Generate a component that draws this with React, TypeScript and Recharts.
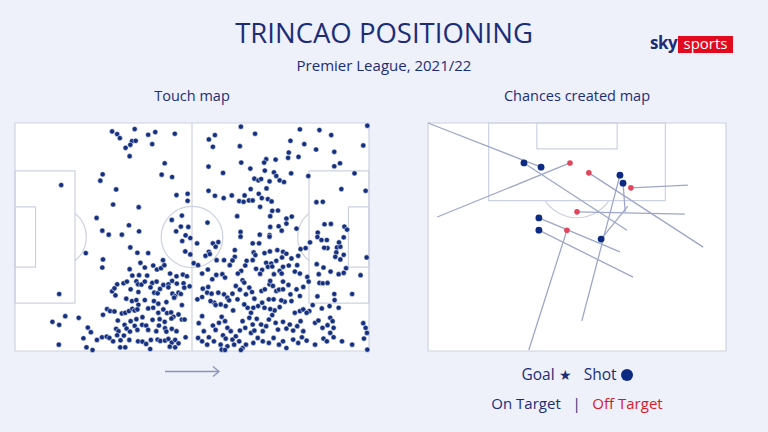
import { ScatterChart, Scatter, XAxis, YAxis, ReferenceArea, ReferenceLine, ReferenceDot } from 'recharts';

// touch locations, metres on a 105 x 68 pitch (attacking left to right, y from top)
const touches: [number, number][] = [
  [28.8, 2.5], [30.3, 3.3], [31.1, 4.5], [35.5, 1.8], [39.5, 3.5], [41.6, 2.7], [47.4, 3.2], [34.7, 5.4],
  [35.8, 5.3], [34.2, 6.5], [32.8, 7.4], [40.7, 6.3], [34.0, 9.9], [44.4, 12.0], [43.5, 15.4], [46.6, 16.1],
  [26.0, 15.3], [25.3, 17.2], [13.7, 18.5], [30.0, 19.8], [47.9, 21.5], [51.2, 21.1], [51.2, 23.2], [29.1, 24.3],
  [36.7, 25.1], [24.2, 28.3], [46.5, 28.9], [49.5, 27.6], [33.8, 30.5], [25.9, 32.1], [27.8, 33.3], [31.7, 33.3],
  [36.8, 32.3], [47.8, 32.3], [49.2, 30.9], [51.4, 31.0], [50.6, 33.5],
  [67.0, 1.1], [59.3, 3.6], [57.5, 4.9], [58.7, 7.1], [71.2, 3.2], [66.7, 6.9], [84.5, 1.9], [90.3, 2.1],
  [93.8, 3.6], [104.5, 0.8], [81.7, 5.3], [85.8, 6.3], [89.3, 7.9], [103.3, 6.7], [81.2, 8.8], [81.0, 10.4],
  [84.1, 10.1], [94.7, 8.6], [74.5, 10.8], [73.9, 11.8], [77.3, 10.9], [67.1, 11.8], [57.4, 13.0], [61.7, 14.9],
  [69.8, 13.6], [74.1, 14.2], [76.8, 14.7], [77.5, 15.8], [81.9, 15.0], [87.0, 15.8], [94.7, 12.9], [96.4, 12.0],
  [100.7, 15.0], [71.0, 16.6], [72.2, 17.1], [73.0, 16.7], [75.5, 17.4], [78.5, 17.1], [79.8, 17.6], [74.6, 19.5],
  [69.9, 19.7], [72.3, 21.1], [73.2, 22.4], [75.0, 22.7], [76.1, 23.4], [57.4, 20.2], [59.3, 21.7], [61.9, 22.4],
  [64.3, 21.6], [66.5, 23.3], [68.1, 21.6], [67.8, 23.5], [69.4, 23.1], [70.5, 23.1], [72.7, 25.0], [96.8, 19.7],
  [104.0, 20.2], [89.4, 23.6], [91.3, 23.5], [76.3, 26.2], [78.0, 26.1], [75.7, 27.8], [65.9, 27.8], [80.5, 28.5],
  [82.1, 27.9], [57.1, 29.7], [80.5, 30.0], [83.5, 31.5], [75.7, 31.0], [78.2, 30.8], [79.1, 32.1], [66.9, 32.5],
  [91.8, 30.2], [93.7, 30.1], [97.7, 30.9], [98.5, 31.8], [72.6, 33.3], [75.5, 33.4], [89.8, 32.7],
  [21.0, 38.8], [34.2, 37.1], [36.3, 38.7], [39.5, 38.8], [26.1, 40.7], [25.9, 43.1], [50.5, 38.3], [52.0, 39.2],
  [52.0, 34.3], [49.6, 35.2], [37.2, 41.7], [38.5, 43.1], [41.0, 42.5], [42.1, 43.7], [43.3, 43.3], [44.3, 42.4],
  [43.9, 40.9], [53.0, 41.8], [34.0, 43.6], [34.8, 45.5], [36.8, 45.4], [39.2, 45.5], [46.0, 44.9], [47.9, 45.7],
  [49.8, 45.2], [51.0, 45.7], [30.3, 48.1], [32.2, 47.8], [33.2, 47.3], [36.0, 47.2], [36.5, 48.1], [37.5, 48.2],
  [38.5, 47.3], [40.7, 47.7], [42.0, 47.3], [44.0, 48.3], [45.5, 48.1], [46.6, 47.1], [48.0, 47.9], [50.0, 47.8],
  [51.8, 48.7], [28.8, 50.2], [29.5, 49.3], [34.3, 49.6], [36.6, 50.4], [40.2, 49.0], [41.3, 50.6], [42.3, 50.8],
  [43.0, 49.5], [45.5, 49.0], [46.7, 50.9], [47.5, 51.6], [48.5, 50.6], [49.2, 51.0], [50.2, 49.1], [13.1, 51.0],
  [29.8, 51.4], [33.0, 52.4], [34.7, 53.1], [36.0, 52.8], [36.6, 54.2], [38.5, 52.8], [41.2, 53.1], [42.5, 53.9],
  [44.9, 53.4], [47.2, 52.1], [49.5, 54.3], [26.1, 57.2], [27.3, 55.5], [28.2, 56.1], [29.5, 56.2], [31.7, 56.8],
  [32.7, 56.6], [33.8, 56.1], [34.8, 55.4], [35.5, 55.9], [36.3, 55.6], [39.5, 55.3], [41.0, 55.1], [42.5, 56.6],
  [44.0, 55.6], [45.1, 56.7], [46.3, 56.5], [47.0, 57.8], [48.5, 57.1], [49.5, 58.6], [50.3, 58.6], [11.1, 59.3],
  [13.1, 60.2], [14.9, 57.6], [18.9, 58.1], [30.5, 58.9], [34.3, 59.1], [36.0, 58.5], [37.8, 57.9], [40.8, 58.7],
  [42.9, 58.5], [44.4, 59.3], [46.4, 58.3], [21.6, 61.0], [22.5, 62.4], [20.3, 64.2], [13.0, 66.1], [30.0, 61.4],
  [30.7, 62.1], [32.5, 60.2], [33.1, 61.3], [34.1, 62.2], [35.5, 60.5], [36.3, 61.7], [37.7, 60.2], [38.9, 60.4],
  [39.5, 61.7], [41.9, 62.1], [42.7, 60.4], [44.5, 61.2], [44.9, 62.2], [46.5, 61.4], [47.9, 62.1], [24.3, 64.7],
  [25.8, 63.9], [27.2, 63.7], [28.0, 64.1], [29.1, 65.1], [30.3, 63.3], [31.3, 64.8], [32.3, 63.4], [33.9, 64.7],
  [36.5, 65.1], [37.8, 65.2], [38.9, 65.9], [40.3, 64.7], [42.3, 64.6], [43.1, 65.0], [44.5, 64.9], [45.5, 64.4],
  [46.5, 65.5], [47.5, 64.7], [48.5, 65.7], [50.6, 63.9], [21.2, 66.9], [23.0, 67.7], [31.2, 66.9], [32.7, 66.9],
  [40.1, 67.4], [45.9, 66.7], [47.5, 66.9],
  [54.0, 35.9], [58.7, 35.9], [59.5, 36.9], [60.3, 35.5], [57.5, 38.4], [56.5, 39.6], [57.8, 39.1], [66.9, 33.9],
  [70.5, 35.9], [72.4, 35.9], [75.5, 33.9], [87.5, 35.6], [84.7, 37.6], [86.2, 37.3], [89.7, 34.0], [90.9, 34.9],
  [92.5, 34.9], [92.7, 37.3], [91.7, 37.2], [95.5, 37.1], [96.5, 36.9], [96.1, 35.6], [97.5, 34.1], [95.3, 38.6],
  [95.0, 39.9], [97.5, 39.3], [96.5, 40.7], [104.3, 40.1], [65.2, 37.9], [65.2, 39.9], [64.5, 41.0], [63.7, 42.4],
  [62.0, 40.9], [59.8, 40.9], [57.2, 43.7], [55.5, 44.9], [54.3, 42.4], [70.8, 38.6], [71.3, 39.4], [70.5, 40.9],
  [68.7, 41.1], [68.3, 42.5], [67.1, 44.1], [66.1, 44.9], [74.0, 38.8], [75.6, 38.3], [77.8, 37.9], [79.5, 38.4],
  [80.5, 39.0], [79.2, 40.1], [77.5, 41.1], [76.0, 41.9], [74.5, 41.7], [75.0, 42.9], [76.3, 42.8], [73.3, 43.8],
  [72.7, 45.0], [71.5, 43.5], [82.0, 40.4], [84.0, 39.6], [81.2, 42.5], [79.5, 42.9], [83.0, 44.3], [84.5, 44.9],
  [83.7, 42.4], [86.7, 45.9], [87.1, 47.3], [78.5, 44.1], [76.8, 45.1], [79.1, 44.9], [89.5, 42.1], [91.5, 43.1],
  [90.1, 45.1], [90.3, 47.7], [91.3, 47.8], [92.7, 47.7], [93.6, 44.3], [96.0, 45.1], [98.2, 43.3], [97.5, 44.7],
  [102.5, 45.4], [61.5, 45.1], [62.3, 46.1], [59.7, 45.3], [58.5, 46.6], [57.3, 48.9], [55.7, 49.4], [57.0, 50.6],
  [58.3, 50.9], [59.1, 53.6], [60.3, 50.6], [62.0, 51.1], [63.0, 52.1], [64.5, 50.9], [65.5, 48.6], [66.7, 49.7],
  [67.5, 46.9], [68.0, 47.6], [68.5, 51.1], [69.5, 49.1], [70.3, 50.4], [71.0, 52.4], [73.1, 50.1], [74.1, 49.6],
  [75.3, 52.6], [75.5, 48.1], [75.7, 47.1], [76.5, 48.6], [77.5, 50.1], [78.3, 49.7], [79.5, 49.6], [79.5, 47.3],
  [81.1, 48.3], [81.7, 51.1], [82.0, 53.1], [80.0, 53.3], [79.0, 52.9], [76.7, 52.6], [78.5, 54.9], [77.0, 55.9],
  [75.7, 55.5], [74.0, 55.1], [73.3, 53.6], [72.1, 54.6], [70.7, 55.1], [70.0, 56.6], [69.0, 55.1], [68.0, 54.1],
  [66.0, 52.6], [64.7, 55.9], [62.5, 54.6], [63.5, 52.9], [61.0, 54.1], [59.5, 54.3], [58.0, 53.1], [54.1, 52.6],
  [55.5, 51.9], [83.5, 49.6], [84.5, 51.6], [85.5, 48.9], [87.3, 56.1], [88.3, 54.3], [89.7, 51.7], [91.0, 55.3],
  [93.3, 54.6], [94.7, 51.0], [94.8, 52.8], [96.0, 55.1], [100.0, 51.0], [83.0, 56.6], [84.5, 56.1], [85.5, 55.6],
  [86.5, 56.6], [55.5, 57.6], [54.5, 59.7], [56.0, 62.1], [57.5, 63.9], [58.7, 60.4], [59.5, 61.7], [60.5, 59.6],
  [61.3, 57.8], [62.3, 59.1], [63.0, 61.1], [64.0, 62.1], [61.7, 63.3], [62.5, 64.3], [64.5, 64.6], [65.5, 63.6],
  [66.7, 61.9], [67.5, 59.1], [68.3, 61.1], [69.5, 58.1], [70.5, 60.1], [70.0, 62.6], [71.0, 61.9], [71.7, 58.4],
  [73.0, 60.1], [73.5, 62.1], [74.5, 60.6], [75.3, 58.6], [76.3, 57.3], [77.3, 59.6], [78.0, 61.6], [79.5, 59.3],
  [80.5, 61.3], [81.5, 60.1], [82.5, 61.9], [83.7, 60.6], [84.7, 59.1], [85.5, 62.1], [54.3, 64.1], [55.5, 65.1],
  [57.0, 66.1], [59.0, 65.1], [61.0, 66.1], [63.0, 66.6], [65.0, 66.1], [66.5, 65.1], [67.5, 67.1], [68.5, 66.1],
  [70.7, 65.6], [72.0, 64.1], [73.5, 65.1], [75.3, 65.6], [76.7, 64.1], [78.3, 66.1], [79.5, 65.1], [80.5, 67.1],
  [82.5, 64.6], [84.0, 65.6], [85.1, 63.9], [86.5, 64.9], [61.3, 67.6], [62.3, 67.7], [67.0, 67.7], [89.0, 59.6],
  [90.0, 58.9], [91.2, 61.1], [92.7, 60.3], [93.5, 58.1], [94.2, 59.1], [94.5, 61.1], [93.5, 62.6], [91.5, 64.3],
  [92.5, 65.1], [94.5, 63.9], [97.0, 65.1], [100.0, 66.1], [103.3, 59.7], [104.0, 61.1], [104.4, 62.6], [103.5, 64.3],
  [104.5, 67.6], [89.0, 66.1],
];

// chances created: pass origin -> shot location, metres on the attacking half (goal at top)
const passX = [0, 45.4, 2.1, 62.8, 35.1, 45.0, 59.3, 58.6, 43.8, 46.8, 23.0, 45.6];
const passY = [0, 22.8, 20.0, 26.4, 42.1, 18.9, 13.2, 19.4, 27.4, 32.8, 48.3, 17.7];
const shotX = [25.8, 21.9, 32.4, 36.7, 43.8, 44.5, 46.3, 34.0, 25.3, 25.3, 31.7, 39.5];
const shotY = [9.4, 8.5, 8.5, 10.6, 11.1, 12.8, 13.8, 18.9, 20.2, 22.8, 22.8, 24.7];
const shotResult = ['on', 'on', 'off', 'off', 'on', 'on', 'off', 'off', 'on', 'on', 'off', 'on'];

const NAVY = '#1c2d78';
const DOT = '#15307f';
const RED = '#e0455c';
const LINE = '#cdd2e1';
const PASS = '#9ea7c9';

const touchData = touches.map(([x, y]) => ({ x, y }));
const onTarget = shotX.map((x, i) => ({ x, y: shotY[i] })).filter((_, i) => shotResult[i] === 'on');
const offTarget = shotX.map((x, i) => ({ x, y: shotY[i] })).filter((_, i) => shotResult[i] === 'off');

// left pitch: 354 x 228 px for 105 x 68 m
const LKX = 354 / 105;
const LKY = 228 / 68;
// right half pitch: 298 x 228 px for 68 x 48.5 m
const RKX = 298 / 68;
const RKY = 228 / 48.5;

const touchDot = (p: any) => <circle cx={p.cx} cy={p.cy} r={2.6} fill={DOT} stroke="#fff" strokeWidth={0.5} />;
const noDot = () => <g />;

const arc = (d: (cx: number, cy: number) => string) => (p: any) => (
  <path d={d(p.cx, p.cy)} fill="none" stroke={LINE} strokeWidth={1.2} />
);

const leftD = arc((cx, cy) => {
  const dx = 5.8 * LKX;
  const dy = 9.15 * LKY * Math.sqrt(1 - (5.8 / 9.15) ** 2);
  return `M${cx + dx},${cy - dy} A${9.15 * LKX},${9.15 * LKY} 0 0 1 ${cx + dx},${cy + dy}`;
});
const rightD = arc((cx, cy) => {
  const dx = 5.8 * LKX;
  const dy = 9.15 * LKY * Math.sqrt(1 - (5.8 / 9.15) ** 2);
  return `M${cx - dx},${cy - dy} A${9.15 * LKX},${9.15 * LKY} 0 0 0 ${cx - dx},${cy + dy}`;
});
const centreCircle = (p: any) => (
  <ellipse cx={p.cx} cy={p.cy} rx={9.15 * LKX} ry={9.15 * LKY} fill="none" stroke={LINE} strokeWidth={1.2} />
);
const topD = arc((cx, cy) => {
  const dy = 5.5 * RKY;
  const dx = 9.15 * RKX * Math.sqrt(1 - (5.5 / 9.15) ** 2);
  return `M${cx - dx},${cy + dy} A${9.15 * RKX},${9.15 * RKY} 0 0 0 ${cx + dx},${cy + dy}`;
});

const box = { fill: 'none', fillOpacity: 1, stroke: LINE, strokeWidth: 1.2 };

function TouchMap() {
  return (
    <ScatterChart width={364} height={238} margin={{ top: 5, right: 5, bottom: 5, left: 5 }}>
      <XAxis type="number" dataKey="x" domain={[0, 105]} hide />
      <YAxis type="number" dataKey="y" domain={[0, 68]} reversed hide />
      <ReferenceArea x1={0} x2={105} y1={0} y2={68} {...box} />
      <ReferenceArea x1={0} x2={17.8} y1={14.3} y2={53.7} {...box} />
      <ReferenceArea x1={0} x2={6.1} y1={25} y2={43} {...box} />
      <ReferenceArea x1={87.2} x2={105} y1={14.3} y2={53.7} {...box} />
      <ReferenceArea x1={98.9} x2={105} y1={25} y2={43} {...box} />
      <ReferenceLine x={52.5} stroke={LINE} strokeWidth={1.2} />
      <ReferenceDot x={52.5} y={34} shape={centreCircle} />
      <ReferenceDot x={12} y={34} shape={leftD} />
      <ReferenceDot x={93} y={34} shape={rightD} />
      <Scatter data={touchData} shape={touchDot} isAnimationActive={false} />
    </ScatterChart>
  );
}

function ChanceMap() {
  return (
    <ScatterChart width={308} height={238} margin={{ top: 5, right: 5, bottom: 5, left: 5 }}>
      <XAxis type="number" dataKey="x" domain={[0, 68]} hide />
      <YAxis type="number" dataKey="y" domain={[0, 48.5]} reversed hide />
      <ReferenceArea x1={0} x2={68} y1={0} y2={48.5} {...box} />
      <ReferenceArea x1={13.84} x2={54.16} y1={0} y2={16.5} {...box} />
      <ReferenceArea x1={24.84} x2={43.16} y1={0} y2={5.5} {...box} />
      <ReferenceDot x={34} y={11} shape={topD} />
      {passX.map((px, i) => (
        <Scatter
          key={i}
          data={[{ x: px, y: passY[i] }, { x: shotX[i], y: shotY[i] }]}
          line={{ stroke: PASS, strokeWidth: 1.3 }}
          shape={noDot}
          isAnimationActive={false}
        />
      ))}
      <Scatter data={offTarget} shape={(p: any) => <circle cx={p.cx} cy={p.cy} r={2.8} fill={RED} />} isAnimationActive={false} />
      <Scatter data={onTarget} shape={(p: any) => <circle cx={p.cx} cy={p.cy} r={3.4} fill="#0c2a82" />} isAnimationActive={false} />
    </ScatterChart>
  );
}

const txt = (top: number, left: number, width: number, size: number, extra: any = {}) => ({
  position: 'absolute' as const,
  top,
  left,
  width,
  textAlign: 'center' as const,
  fontSize: size,
  lineHeight: '1.3',
  color: NAVY,
  ...extra,
});

export default function App() {
  return (
    <div style={{ position: 'absolute', left: 0, top: 0, width: 768, height: 432, background: '#eef0fa', overflow: 'hidden', fontFamily: '"Open Sans", sans-serif' }}>
      <div style={txt(15, 0, 768, 27.5, { fontWeight: 500 })}>TRINCAO POSITIONING</div>
      <div style={txt(56, 0, 768, 15)}>Premier League, 2021/22</div>
      <div style={txt(87, 92, 200, 14.5)}>Touch map</div>
      <div style={txt(87, 477, 200, 14.5)}>Chances created map</div>

      <div style={{ position: 'absolute', left: 650, top: 33, fontSize: 17, fontWeight: 700, color: NAVY, letterSpacing: -0.5, lineHeight: '20px' }}>sky</div>
      <div style={{ position: 'absolute', left: 678, top: 36, width: 55, height: 17, background: '#e10a1e', color: '#fff', fontSize: 15, lineHeight: '15px', textAlign: 'center' }}>sports</div>

      <div style={{ position: 'absolute', left: 15, top: 123, width: 354, height: 228, background: '#fff' }} />
      <div style={{ position: 'absolute', left: 428, top: 123, width: 298, height: 228, background: '#fff' }} />
      <div style={{ position: 'absolute', left: 10, top: 118 }}>
        <TouchMap />
      </div>
      <div style={{ position: 'absolute', left: 423, top: 118 }}>
        <ChanceMap />
      </div>

      <svg style={{ position: 'absolute', left: 160, top: 362 }} width={70} height={20}>
        <path d="M5,9.5 H59" stroke="#8a93bd" strokeWidth={1.3} fill="none" />
        <path d="M53,4.5 L59,9.5 L53,14.5" stroke="#8a93bd" strokeWidth={1.3} fill="none" />
      </svg>

      <div style={txt(364, 427, 300, 15.5)}>
        Goal <span style={{ fontSize: 14 }}>★</span>&nbsp;&nbsp;&nbsp;Shot <span style={{ display: 'inline-block', width: 12, height: 12, borderRadius: 6, background: '#0c2a82', verticalAlign: -1 }} />
      </div>
      <div style={txt(394, 427, 300, 15)}>
        On Target &nbsp;&nbsp;|&nbsp;&nbsp; <span style={{ color: '#d8192c' }}>Off Target</span>
      </div>
    </div>
  );
}
